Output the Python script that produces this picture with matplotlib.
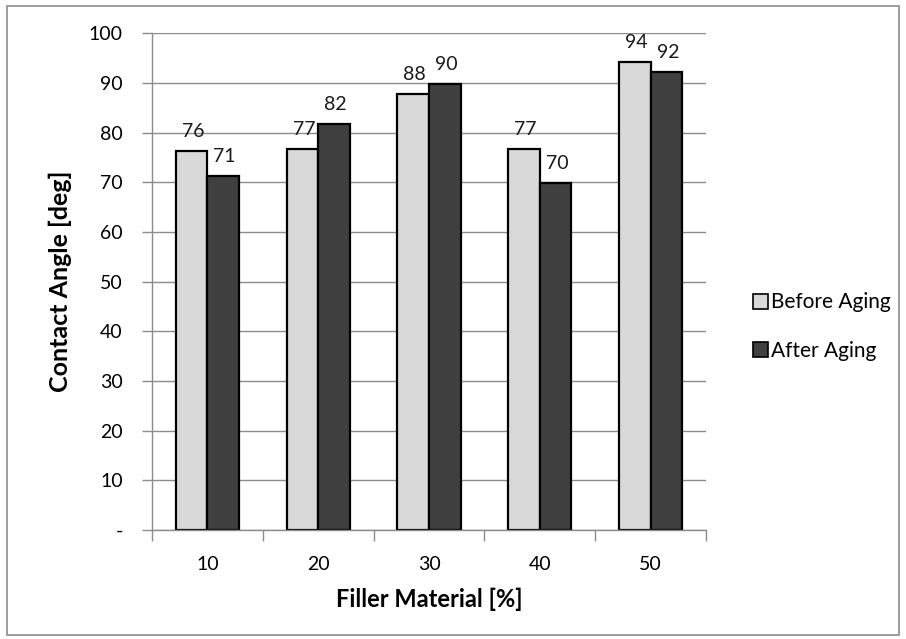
import numpy as np
import matplotlib
matplotlib.use("Agg")
import matplotlib.pyplot as plt
from matplotlib.patches import Rectangle, Patch
from matplotlib.ticker import FuncFormatter

plt.rcParams['font.family'] = ['Lato', 'DejaVu Sans']

# data
filler = ["10", "20", "30", "40", "50"]
before_aging = [76.3, 76.8, 87.8, 76.8, 94.2]
after_aging = [71.3, 81.7, 89.9, 69.8, 92.3]

light = "#D9D9D9"
dark = "#404040"
grid_col = "#8C8C8C"

fig = plt.figure(figsize=(9.06, 6.39), dpi=100)
ax = fig.add_axes([0.1678, 0.1706, 0.6115, 0.777])

x = np.arange(len(filler))
w = 0.285
b1 = ax.bar(x - w / 2, before_aging, w, color=light, edgecolor="black", linewidth=1.6,
            label="Before Aging", zorder=3)
b2 = ax.bar(x + w / 2, after_aging, w, color=dark, edgecolor="black", linewidth=1.6,
            label="After Aging", zorder=3)

for bars, vals in [(b1, before_aging), (b2, after_aging)]:
    for r, v in zip(bars, vals):
        ax.annotate(f"{v:.0f}", (r.get_x() + r.get_width() / 2, r.get_height()),
                    xytext=(1, 8), textcoords="offset points",
                    ha="center", va="bottom", fontsize=14, color="#1a1a1a")

ax.set_ylim(0, 100)
ax.set_xlim(-0.5, len(filler) - 0.5)
ax.set_yticks(np.arange(0, 101, 10))
ax.yaxis.set_major_formatter(FuncFormatter(lambda v, p: "-" if v == 0 else f"{v:.0f}"))
ax.grid(axis="y", color=grid_col, linewidth=1.0, zorder=0)

ax.set_xticks(x)
ax.set_xticklabels(filler)
ax.set_xticks(np.arange(-0.5, len(filler), 1.0), minor=True)
ax.tick_params(axis="x", which="major", length=0, pad=19, labelsize=14)
ax.tick_params(axis="x", which="minor", length=8, width=1.0, color=grid_col)
ax.tick_params(axis="y", length=7, width=1.0, color=grid_col, pad=14, labelsize=14)

for s in ["top", "right"]:
    ax.spines[s].set_visible(False)
for s in ["left", "bottom"]:
    ax.spines[s].set_color(grid_col)
    ax.spines[s].set_linewidth(1.0)
    ax.spines[s].set_zorder(4)

ax.set_xlabel("Filler Material [%]", fontsize=17, fontweight="bold", labelpad=10)
ax.set_ylabel("Contact Angle [deg]", fontsize=18, fontweight="bold", labelpad=12)

handles = [Patch(facecolor=light, edgecolor="black", linewidth=1.2),
           Patch(facecolor=dark, edgecolor="black", linewidth=1.2)]
fig.legend(handles, ["Before Aging", "After Aging"], loc="center left",
           bbox_to_anchor=(0.81, 0.489), frameon=False, fontsize=15,
           handlelength=0.75, handleheight=0.75, handletextpad=0.15, labelspacing=1.35)

fig.patches.append(Rectangle((0.008, 0.006), 0.984, 0.984, transform=fig.transFigure,
                             fill=False, edgecolor="#8C8C8C", linewidth=1.2))

fig.savefig("out.png", dpi=100)
